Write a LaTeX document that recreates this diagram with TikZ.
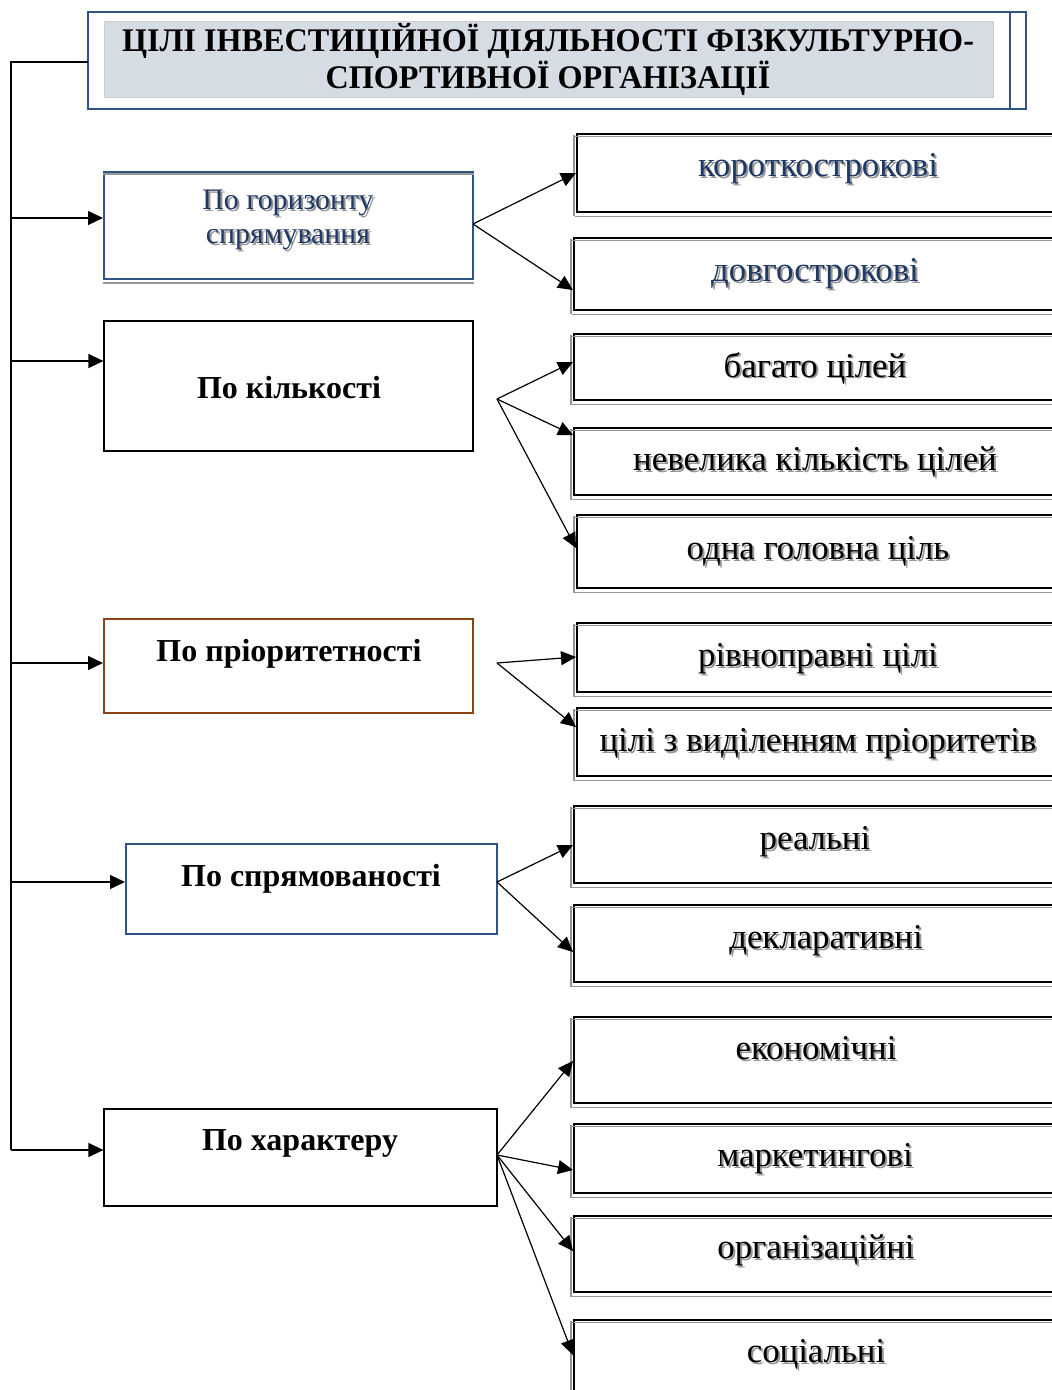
\documentclass[tikz,border=0pt]{standalone}
\usepackage{fontspec}
\setmainfont{Liberation Serif}
\newfontfamily\titlefont[FakeStretch=0.975]{Liberation Serif}
\usetikzlibrary{arrows.meta,calc}
\definecolor{titleblue}{RGB}{46,84,133}
\definecolor{titlefill}{RGB}{214,220,228}
\definecolor{textblue}{RGB}{31,56,100}
\definecolor{brownline}{RGB}{140,66,22}
\definecolor{shadowgrey}{RGB}{150,150,150}
\newcommand\shd[1]{\makebox[0pt][l]{\kern1pt\raisebox{-1pt}{\textcolor{shadowgrey}{#1}}}#1}
\begin{document}
\begin{tikzpicture}[x=0.5pt,y=-0.5pt,
  lbox/.style={draw=black, line width=0.6pt, inner sep=0pt},
  rbox/.style={draw=black, line width=1pt, inner sep=0pt, anchor=west, minimum width=245pt},
  shline/.style={draw=shadowgrey, line width=0.8pt},
  ltext/.style={font=\bfseries\fontsize{16}{18}\selectfont, anchor=base, inner sep=0pt},
  rtext/.style={font=\fontsize{17.4}{19}\selectfont, anchor=base, inner sep=0pt},
  arr/.style={-{Triangle[length=7.5pt,width=7pt]}, line width=0.6pt},
  link/.style={line width=0.6pt}]
\useasboundingbox (0,0) rectangle (1052,1390);
\clip (0,0) rectangle (1052,1390);
% title
\node[draw=titleblue, line width=1.3pt, outer sep=0pt, minimum width=461pt, minimum height=48.5pt, inner sep=0pt] (title) at (549,60.5) {};
\draw[draw=titleblue, line width=1.3pt] (title.north east) rectangle ($(title.south east)+(16,0)$);
\node[fill=titlefill, draw=black!20, line width=0.4pt, minimum width=444.5pt, minimum height=38pt, inner sep=0pt] (tfill) at (548.5,59) {};
\node[font=\titlefont\bfseries\fontsize{16.5}{18.5}\selectfont, align=center, inner sep=0pt] (ttext) at (548,59)
  {ЦІЛІ ІНВЕСТИЦІЙНОЇ ДІЯЛЬНОСТІ ФІЗКУЛЬТУРНО-\\СПОРТИВНОЇ ОРГАНІЗАЦІЇ};
% left boxes
\node[lbox, draw=titleblue, line width=1pt, minimum width=184.5pt, minimum height=53.5pt] (b1) at (288.5,225.5) {};
\node[lbox, minimum width=184.5pt, minimum height=65pt] (b2) at (288.5,386) {};
\node[lbox, draw=brownline, line width=1pt, minimum width=184.5pt, minimum height=47pt] (b3) at (288.5,666) {};
\node[lbox, draw=titleblue, line width=1pt, minimum width=185.5pt, minimum height=45pt] (b4) at (311.5,889) {};
\node[lbox, minimum width=196.5pt, minimum height=48.5pt] (b5) at (300.5,1157.5) {};
\draw[shline] ($(b1.north west)+(0,3)$) -- ($(b1.north east)+(0,3)$);
\draw[shline] ($(b1.south west)+(0,3)$) -- ($(b1.south east)+(0,3)$);
\node[font=\fontsize{14.9}{17}\selectfont, text=textblue, align=center, inner sep=0pt] (t1) at (288,221)
  {\shd{По горизонту}\\\shd{спрямування}};
\node[ltext] (t2) at (289,398) {По кількості};
\node[ltext] (t3) at (289,661) {По пріоритетності};
\node[ltext] (t4) at (311,886) {По спрямованості};
\node[ltext] (t5) at (300,1150) {По характеру};
% right boxes
\node[rbox, minimum height=39pt] (r1) at (576,173) {};
\node[rbox, minimum height=36pt] (r2) at (573,274) {};
\node[rbox, minimum height=33pt] (r3) at (573,367) {};
\node[rbox, minimum height=33.5pt] (r4) at (573,461.5) {};
\node[rbox, minimum height=36.5pt] (r5) at (576,551.5) {};
\node[rbox, minimum height=34.5pt] (r6) at (576,657.5) {};
\node[rbox, minimum height=34pt] (r7) at (576,742) {};
\node[rbox, minimum height=38.5pt] (r8) at (573,844.5) {};
\node[rbox, minimum height=38.5pt] (r9) at (573,943.5) {};
\node[rbox, minimum height=43pt] (r10) at (573,1060) {};
\node[rbox, minimum height=34.5pt] (r11) at (573,1158.5) {};
\node[rbox, minimum height=38pt] (r12) at (573,1254) {};
\node[rbox, minimum height=40pt] (r13) at (573,1360) {};
\foreach \n in {r1,r2,r3,r4,r5,r6,r7,r8,r9,r10,r11,r12,r13}{
  \draw[shline] ($(\n.north west)+(-1,3.5)$) -- ($(\n.north east)+(-1,3.5)$);
  \draw[shline] ($(\n.south west)+(-1,3.5)$) -- ($(\n.south east)+(-1,3.5)$);
  \draw[shline] ($(\n.north west)+(-2,2)$) -- ($(\n.south west)+(-2,3.5)$);
}
\node[rtext, text=textblue] (u1) at (818,177) {\shd{короткострокові}};
\node[rtext, text=textblue] (u2) at (815,282) {\shd{довгострокові}};
\node[rtext] (u3) at (815,377) {\shd{багато цілей}};
\node[rtext] (u4) at (815,470) {\shd{невелика кількість цілей}};
\node[rtext] (u5) at (818,559) {\shd{одна головна ціль}};
\node[rtext] (u6) at (818,666) {\shd{рівноправні цілі}};
\node[rtext] (u7) at (818,751) {\shd{цілі з виділенням пріоритетів}};
\node[rtext] (u8) at (815,849) {\shd{реальні}};
\node[rtext] (u9) at (826,948) {\shd{декларативні}};
\node[rtext] (u10) at (816,1059) {\shd{економічні}};
\node[rtext] (u11) at (815,1166) {\shd{маркетингові}};
\node[rtext] (u12) at (816,1258) {\shd{організаційні}};
\node[rtext] (u13) at (816,1362) {\shd{соціальні}};
% trunk
\coordinate (trtop) at (11,62);
\coordinate (trbot) at (11,1150);
\draw[link] (title.west |- 0,62) -- (trtop) -- (trbot);
\draw[arr] (11,218) -- (b1.west |- 0,218);
\draw[arr] (11,361) -- (b2.west |- 0,361);
\draw[arr] (11,663) -- (b3.west |- 0,663);
\draw[arr] (11,882) -- (b4.west |- 0,882);
\draw[arr] (trbot) -- (b5.west |- 0,1150);
% branches
\coordinate (s1) at (473,224);
\coordinate (s2) at (497,399);
\coordinate (s3) at (497,663);
\coordinate (s4) at (497,882);
\coordinate (s5) at (497,1155);
\draw[arr] (s1) -- (r1.west |- 0,173);
\draw[arr] (s1) -- (r2.west |- 0,290);
\draw[arr] (s2) -- (r3.west |- 0,362);
\draw[arr] (s2) -- (r4.west |- 0,435);
\draw[arr] (s2) -- (r5.west |- 0,548);
\draw[arr] (s3) -- (r6.west |- 0,657);
\draw[arr] (s3) -- (r7.west |- 0,727);
\draw[arr] (s4) -- (r8.west |- 0,845);
\draw[arr] (s4) -- (r9.west |- 0,952);
\draw[arr] (s5) -- (r10.west |- 0,1061);
\draw[arr] (s5) -- (r11.west |- 0,1170);
\draw[arr] (s5) -- (r12.west |- 0,1251);
\draw[arr] (s5) -- (r13.west |- 0,1355);
\end{tikzpicture}
\end{document}
